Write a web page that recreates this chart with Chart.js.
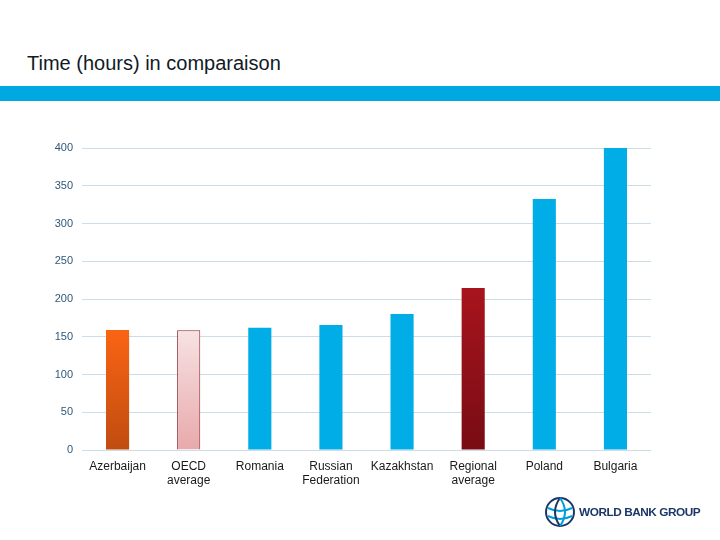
<!DOCTYPE html>
<html>
<head>
<meta charset="utf-8">
<script src="https://cdn.jsdelivr.net/npm/chart.js@4"></script>
<style>
  body { margin: 0; background: #fff; }
  #wrap { position: relative; width: 720px; height: 540px; overflow: hidden; font-family: "Liberation Sans", Arial, sans-serif; }
  #title { position: absolute; left: 27px; top: 52px; font-size: 20px; color: #111a26; letter-spacing: 0px; }
  #band { position: absolute; left: 0; top: 86px; width: 720px; height: 15px; background: #00a8e1; }
  #chart { position: absolute; left: 0; top: 0; }
  #logo { position: absolute; left: 544px; top: 496px; display: flex; align-items: center; }
  #logo span { font-weight: bold; font-size: 11.8px; color: #1b3668; letter-spacing: -0.45px; margin-left: 3px; }
</style>
</head>
<body>
<div id="wrap">
  <div id="title">Time (hours) in comparaison</div>
  <div id="band"></div>
  <canvas id="chart" width="720" height="540"></canvas>
  <div id="logo">
    <svg width="32" height="32" viewBox="0 0 32 32">
      <circle cx="16" cy="16" r="14" fill="none" stroke="#1b3668" stroke-width="2"/>
      <path d="M4 12 Q16 18 28 12" fill="none" stroke="#009fda" stroke-width="2"/>
      <path d="M4 20 Q16 26 28 20" fill="none" stroke="#009fda" stroke-width="2"/>
      <path d="M16 2 Q6 16 16 30" fill="none" stroke="#1b3668" stroke-width="2"/>
      <path d="M16 2 Q26 16 16 30" fill="none" stroke="#009fda" stroke-width="2"/>
    </svg>
    <span>WORLD BANK GROUP</span>
  </div>
</div>
<script>
let countries = [
    'Azerbaijan',
    ['OECD', 'average'],
    'Romania',
    ['Russian', 'Federation'],
    'Kazakhstan',
    ['Regional', 'average'],
    'Poland',
    'Bulgaria'
];
let hours = [159, 158.5, 162, 165.5, 180, 214.5, 332.5, 400];
let yTicks = [0, 50, 100, 150, 200, 250, 300, 350, 400];

// bar styles: [top colour, bottom colour]
let barStyles = [
    ['#fa6414', '#c04c10'],
    ['#f7e2e3', '#e8a9ab'],
    ['#00ade6', '#00ade6'],
    ['#00ade6', '#00ade6'],
    ['#00ade6', '#00ade6'],
    ['#a8141d', '#780c14'],
    ['#00ade6', '#00ade6'],
    ['#00ade6', '#00ade6']
];

let ctx = document.getElementById('chart').getContext('2d');

let hoursChart = new Chart(ctx, {
    type: 'bar',
    data: {
        labels: countries,
        datasets: [{
            label: 'Time (hours)',
            data: hours,
            backgroundColor: function(context) {
                let area = context.chart.chartArea;
                let s = barStyles[context.dataIndex];
                if (!area) return s[0];
                // gradient over the height of the bar
                let yTop = context.chart.scales.y.getPixelForValue(hours[context.dataIndex]);
                let g = context.chart.ctx.createLinearGradient(0, yTop, 0, area.bottom);
                g.addColorStop(0, s[0]);
                g.addColorStop(1, s[1]);
                return g;
            },
            borderColor: function(context) {
                return context.dataIndex === 1 ? '#8c2a30' : 'rgba(0,0,0,0)';
            },
            borderWidth: function(context) {
                return context.dataIndex === 1 ? 1 : 0;
            },
            barPercentage: 0.325,
            categoryPercentage: 1
        }]
    },
    options: {
        responsive: false,
        animation: false,
        layout: {
            padding: { left: 0, right: 69, top: 148, bottom: 0 }
        },
        plugins: {
            legend: { display: false },
            tooltip: { enabled: false }
        },
        scales: {
            x: {
                grid: { display: false, drawTicks: false },
                border: { display: false },
                ticks: {
                    padding: 9,
                    maxRotation: 0,
                    autoSkip: false,
                    color: '#1a1a1a',
                    font: { family: '"Liberation Sans", Arial, sans-serif', size: 12 }
                },
                afterFit: function(scale) { scale.height = 90; }
            },
            y: {
                min: 0,
                max: 400,
                afterBuildTicks: function(scale) {
                    scale.ticks = yTicks.map(function(v) { return { value: v }; });
                },
                grid: { color: '#cbdde7', drawTicks: false, lineWidth: 1 },
                border: { display: false },
                ticks: {
                    padding: 9,
                    color: '#2f5878',
                    font: { family: '"Liberation Sans", Arial, sans-serif', size: 11 }
                },
                afterFit: function(scale) { scale.width = 82; }
            }
        }
    }
});
</script>
</body>
</html>
